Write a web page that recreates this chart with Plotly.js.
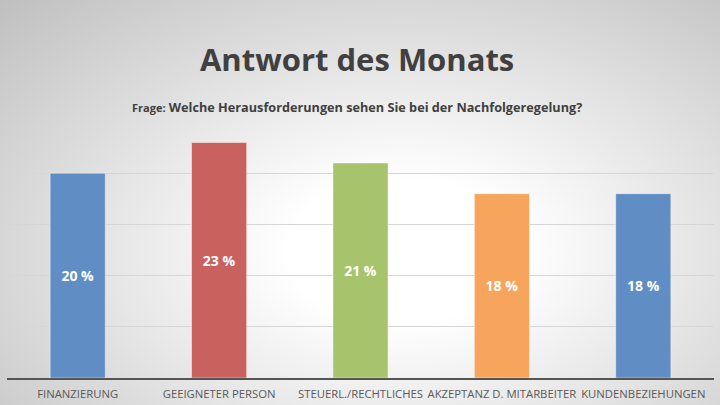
<!DOCTYPE html>
<html>
<head>
<meta charset="utf-8">
<script src="https://cdn.plot.ly/plotly-3.0.1.min.js"></script>
<style>
  html, body { margin: 0; padding: 0; }
  body {
    width: 720px; height: 405px; overflow: hidden;
    background: radial-gradient(ellipse farthest-corner at 56% 62%, #ffffff 0%, #ffffff 20%, #bfbfbf 100%);
  }
  #chart { width: 720px; height: 405px; }
</style>
</head>
<body>
<div id="chart"></div>
<script>
// Antwort des Monats - Nachfolgeregelung
var categories = [
  'FINANZIERUNG',
  'GEEIGNETER PERSON',
  'STEUERL./RECHTLICHES',
  'AKZEPTANZ D. MITARBEITER',
  'KUNDENBEZIEHUNGEN'
];
var shares = [20, 23, 21, 18, 18];
var bar_colors = ['#5F8DC4', '#C9625F', '#A7C46C', '#F7A55D', '#5F8DC4'];

var chart_data = [
  {
    x: categories,
    y: shares,
    type: 'bar',
    marker: {
      color: bar_colors,
      line: { color: 'rgba(255,255,255,0.45)', width: 1 },
    },
    texttemplate: '%{y} %',
    textposition: 'inside',
    insidetextanchor: 'middle',
    textangle: 0,
    textfont: { family: 'Open Sans', size: 14, color: '#ffffff', weight: 'bold' },
    hoverinfo: 'x+y',
  },
];

var chart_layout = {
  width: 720,
  height: 405,
  margin: { l: 7, r: 6, t: 122, b: 27 },
  paper_bgcolor: 'rgba(0,0,0,0)',
  plot_bgcolor: 'rgba(0,0,0,0)',
  font: { family: 'Open Sans', color: '#595959' },
  title: {
    text: '<b>Antwort des Monats</b>',
    font: { family: 'Open Sans', size: 31, color: '#404040' },
    x: 0.496,
    xanchor: 'center',
    y: 1 - 60 / 405,
    yanchor: 'middle',
  },
  annotations: [
    {
      text: '<b><span style="font-size:11px">Frage:</span> Welche Herausforderungen sehen Sie bei der Nachfolgeregelung?</b>',
      xref: 'paper',
      yref: 'paper',
      x: 0.495,
      y: 1.06,
      xanchor: 'center',
      yanchor: 'middle',
      showarrow: false,
      font: { family: 'Open Sans', size: 12.7, color: '#404040' },
    },
  ],
  bargap: 0.61,
  showlegend: false,
  xaxis: {
    showline: true,
    linecolor: '#555555',
    linewidth: 1.5,
    ticks: '',
    tickangle: 0,
    tickfont: { family: 'Open Sans', size: 11.3, color: '#595959' },
    ticklabelstandoff: 5,
  },
  yaxis: {
    range: [0, 25],
    dtick: 5,
    showgrid: true,
    gridcolor: '#d6d6d6',
    gridwidth: 1,
    zeroline: false,
    showticklabels: false,
  },
};

Plotly.newPlot('chart', chart_data, chart_layout, { displayModeBar: false });
</script>
</body>
</html>
